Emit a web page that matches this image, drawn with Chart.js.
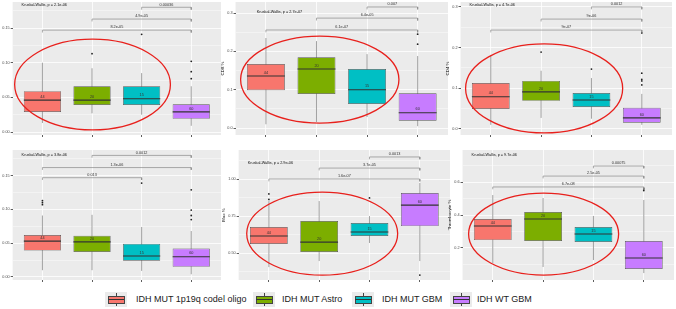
<!DOCTYPE html>
<html>
<head>
<meta charset="utf-8">
<script src="https://cdn.jsdelivr.net/npm/chart.js@4.4.1/dist/chart.umd.min.js"></script>
<style>
  body { margin: 0; width: 676px; height: 309px; position: relative; overflow: hidden; background: #fff;
         font-family: "Liberation Sans", Arial, sans-serif; }
  canvas { position: absolute; }
  .key { position: absolute; top: 292px; width: 22px; height: 15px; background: #ebebeb; }
  .key .wh { position: absolute; left: 10.5px; top: 1px; width: 0.8px; height: 13px; background: #444; }
  .key .bx { position: absolute; left: 3px; top: 4px; width: 15px; height: 6px; border: 0.7px solid #444; }
  .key .md { position: absolute; left: 3px; top: 7px; width: 16px; height: 1px; background: #333; }
  .lab { position: absolute; top: 293px; font-size: 9px; line-height: 12px; color: #1a1a1a; white-space: nowrap; }
</style>
</head>
<body>
<div id="legend"></div>
<script>
// groups
const groups = ['IDH MUT 1p19q codel oligo', 'IDH MUT Astro', 'IDH MUT GBM', 'IDH WT GBM']
const groupColors = ['#F8766D', '#7CAE00', '#00BFC4', '#C77CFF']
const groupCounts = [44, 20, 15, 60]
const panelTitles = ['Bcell %', 'CD8 %', 'CD4 %', 'NK %', 'Mac %', 'Thrombocyte %']
const kruskalP = ['2.1e-06', '2.7e-07', '4.7e-06', '3.8e-06', '2.9e-06', '9.7e-06']

// box stats per group: [lower whisker, Q1, median, Q3, upper whisker]
const bcellBox = [[0.013, 0.029, 0.046, 0.059, 0.100], [0.027, 0.039, 0.046, 0.066, 0.092], [0.025, 0.039, 0.048, 0.066, 0.085], [0.009, 0.019, 0.029, 0.040, 0.066]]
const bcellOut = [[], [0.113], [0.141], [0.102, 0.087, 0.077]]
const bcellTests = [[1, 4, '8.2e-05'], [2, 4, '4.9e-05'], [3, 4, '0.00036']]

const cd8Box = [[0.010, 0.099, 0.136, 0.167, 0.235], [0.016, 0.089, 0.154, 0.185, 0.227], [0.029, 0.063, 0.100, 0.154, 0.193], [0.005, 0.019, 0.040, 0.091, 0.188]]
const cd8Out = [[], [], [], [0.245, 0.219]]
const cd8Tests = [[1, 4, '6.1e-07'], [2, 4, '6.4e-05'], [3, 4, '0.007']]

const cd4Box = [[0.010, 0.049, 0.079, 0.113, 0.182], [0.027, 0.069, 0.091, 0.118, 0.143], [0.025, 0.054, 0.071, 0.088, 0.125], [0.010, 0.015, 0.027, 0.052, 0.086]]
const cd4Out = [[], [0.189], [0.147], [0.236, 0.137, 0.122, 0.118, 0.108]]
const cd4Tests = [[1, 4, '9e-07'], [2, 4, '9e-06'], [3, 4, '0.0012']]

const nkBox = [[0.010, 0.039, 0.053, 0.062, 0.091], [0.010, 0.037, 0.052, 0.061, 0.092], [0.009, 0.024, 0.031, 0.049, 0.074], [0.004, 0.015, 0.030, 0.042, 0.068]]
const nkOut = [[0.113, 0.110, 0.107], [], [0.139], [0.129, 0.099, 0.091, 0.085]]
const nkTests = [[1, 3, '0.013'], [1, 4, '1.3e-06'], [2, 4, '0.0012']]

const macBox = [[0.405, 0.561, 0.615, 0.676, 0.851], [0.446, 0.507, 0.574, 0.716, 0.851], [0.568, 0.615, 0.642, 0.703, 0.750], [0.446, 0.682, 0.824, 0.905, 0.973]]
const macOut = [[0.899, 0.862], [], [0.872], [0.351]]
const macTests = [[1, 4, '1.6e-07'], [2, 4, '3.7e-05'], [3, 4, '0.0013']]

const thrBox = [[0.109, 0.248, 0.333, 0.376, 0.521], [0.085, 0.242, 0.376, 0.418, 0.503], [0.127, 0.236, 0.285, 0.327, 0.394], [0.048, 0.073, 0.139, 0.242, 0.491]]
const thrOut = [[], [], [], [0.558, 0.548]]
const thrTests = [[1, 4, '6.7e-08'], [2, 4, '2.5e-05'], [3, 4, '0.00075']]

// layout of the six panels (plot rectangle in page px, axis range, bracket heights, label spots, red ring)
const panels = [
    { box: bcellBox, out: bcellOut, tests: bcellTests, n: 0, rect: [13, 2, 221, 135], y: [-0.0043, 0.1876], major: 0.05, dec: 2,
      bracketY: [0.147, 0.163, 0.180], kwPos: [0.58, 0.183], ring: [0.44, 3.58, 0.003, 0.134] },
    { box: cd8Box, out: cd8Out, tests: cd8Tests, n: 1, rect: [236, 2, 448, 135], y: [-0.018, 0.329], major: 0.1, dec: 1,
      bracketY: [0.256, 0.287, 0.316], kwPos: [0.82, 0.303], ring: [0.5, 3.63, 0.013, 0.240] },
    { box: cd4Box, out: cd4Out, tests: cd4Tests, n: 2, rect: [461, 2, 672, 135], y: [-0.015, 0.312], major: 0.1, dec: 1,
      bracketY: [0.243, 0.270, 0.300], kwPos: [0.58, 0.305], ring: [0.5, 3.62, -0.010, 0.209] },
    { box: nkBox, out: nkOut, tests: nkTests, n: 3, rect: [13, 150, 221, 280], y: [-0.0045, 0.188], major: 0.05, dec: 2,
      bracketY: [0.147, 0.162, 0.180], kwPos: [0.58, 0.181], ring: null },
    { box: macBox, out: macOut, tests: macTests, n: 4, rect: [239, 150, 450, 280], y: [0.318, 1.196], major: 0.25, dec: 2,
      bracketY: [1.00, 1.074, 1.149], kwPos: [0.58, 1.108], ring: [0.56, 3.56, 0.351, 0.912] },
    { box: thrBox, out: thrOut, tests: thrTests, n: 5, rect: [463, 150, 674, 280], y: [0.006, 0.794], major: 0.2, dec: 1,
      bracketY: [0.570, 0.636, 0.697], kwPos: [0.58, 0.764], ring: [0.52, 3.50, 0.036, 0.533] }
]

const FONT = '"Liberation Sans", Arial, sans-serif'

const isMajor = (v, step) => Math.abs(Math.round(v / step) * step - v) < 1e-9

function decor(p) {
    return {
        id: 'decor' + p.n,
        beforeDraw(chart) {
            const { ctx, chartArea: a } = chart
            ctx.save()
            ctx.fillStyle = '#ebebeb'
            ctx.fillRect(a.left, a.top, a.width, a.height)
            ctx.restore()
        },
        afterDatasetsDraw(chart) {
            const { ctx, scales: { x, y } } = chart
            ctx.save()
            ctx.font = '3.8px ' + FONT
            ctx.fillStyle = '#333'
            ctx.textAlign = 'center'
            ctx.textBaseline = 'bottom'
            p.box.forEach((s, i) => {
                ctx.fillText(String(groupCounts[i]), x.getPixelForValue(i + 1), y.getPixelForValue(s[2]) - 1.5)
            })
            p.tests.forEach((t, k) => {
                ctx.fillText(t[2], x.getPixelForValue((t[0] + t[1]) / 2), y.getPixelForValue(p.bracketY[k]) - 0.8)
            })
            ctx.fillStyle = '#111'
            ctx.textAlign = 'left'
            ctx.textBaseline = 'middle'
            ctx.fillText('Kruskal-Wallis, p = ' + kruskalP[p.n], x.getPixelForValue(p.kwPos[0]), y.getPixelForValue(p.kwPos[1]))
            ctx.restore()
        },
        afterDraw(chart) {
            if (!p.ring) return
            const { ctx, scales: { x, y } } = chart
            const r = p.ring
            const x0 = x.getPixelForValue(r[0]), x1 = x.getPixelForValue(r[1])
            const y0 = y.getPixelForValue(r[2]), y1 = y.getPixelForValue(r[3])
            ctx.save()
            ctx.strokeStyle = '#e8201c'
            ctx.lineWidth = 1.3
            ctx.beginPath()
            ctx.ellipse((x0 + x1) / 2, (y0 + y1) / 2, Math.abs(x1 - x0) / 2, Math.abs(y1 - y0) / 2, 0, 0, Math.PI * 2)
            ctx.stroke()
            ctx.restore()
        }
    }
}

function config(p) {
    const datasets = []
    const range = p.y[1] - p.y[0]
    // whiskers (behind the boxes)
    p.box.forEach((s, i) => {
        datasets.push({ type: 'line', data: [{ x: i + 1, y: s[0] }, { x: i + 1, y: s[4] }],
            borderColor: '#666', borderWidth: 0.6, pointRadius: 0, order: 6 })
    })
    // boxes
    datasets.push({ type: 'bar', data: p.box.map((s, i) => ({ x: i + 1, y: [s[1], s[3]] })),
        backgroundColor: groupColors, borderColor: '#555', borderWidth: 0.7, borderSkipped: false,
        barPercentage: 0.75, categoryPercentage: 1, order: 5 })
    // medians
    p.box.forEach((s, i) => {
        datasets.push({ type: 'line', data: [{ x: i + 0.625, y: s[2] }, { x: i + 1.375, y: s[2] }],
            borderColor: '#333', borderWidth: 1.1, pointRadius: 0, order: 4 })
    })
    // outliers
    datasets.push({ type: 'line', showLine: false,
        data: p.out.flatMap((o, i) => o.map(v => ({ x: i + 1, y: v }))),
        pointRadius: 0.9, pointBackgroundColor: '#222', pointBorderWidth: 0, order: 3 })
    // significance brackets
    p.tests.forEach((t, k) => {
        const h = p.bracketY[k], tip = range * 0.018
        datasets.push({ type: 'line',
            data: [{ x: t[0], y: h - tip }, { x: t[0], y: h }, { x: t[1], y: h }, { x: t[1], y: h - tip }],
            borderColor: '#8a8a8a', borderWidth: 0.7, pointRadius: 0, order: 2 })
    })

    return {
        type: 'bar',
        data: { datasets },
        options: {
            responsive: false,
            maintainAspectRatio: false,
            animation: false,
            layout: { padding: 0 },
            plugins: { legend: { display: false }, tooltip: { enabled: false } },
            scales: {
                x: {
                    type: 'linear', min: 0.4, max: 4.6, offset: false,
                    grid: { offset: false, color: '#fff', lineWidth: 0.8, drawTicks: true, tickLength: 2, tickColor: '#333' },
                    border: { display: false },
                    ticks: { display: false, stepSize: 1, includeBounds: false, autoSkip: false }
                },
                y: {
                    type: 'linear', min: p.y[0], max: p.y[1], beginAtZero: false,
                    grid: {
                        color: '#fff',
                        lineWidth: c => isMajor(c.tick.value, p.major) ? 0.8 : 0.4,
                        tickLength: 2,
                        tickColor: c => isMajor(c.tick.value, p.major) ? '#333' : 'rgba(0,0,0,0)'
                    },
                    border: { display: false },
                    ticks: {
                        stepSize: p.major / 2, includeBounds: false, autoSkip: false, padding: 1,
                        color: '#4d4d4d', font: { size: 3.8, family: FONT },
                        callback: v => isMajor(v, p.major) ? v.toFixed(p.dec) : ''
                    },
                    title: { display: true, text: panelTitles[p.n], color: '#000', font: { size: 4.4, family: FONT }, padding: { top: 0, bottom: 1 } }
                }
            }
        },
        plugins: [decor(p)]
    }
}

panels.forEach(p => {
    const canvas = document.createElement('canvas')
    document.body.appendChild(canvas)
    canvas.width = 300
    canvas.height = 200
    let chart = new Chart(canvas, config(p))
    const a = chart.chartArea
    const tw = p.rect[2] - p.rect[0], th = p.rect[3] - p.rect[1]
    const w = Math.round(a.left + tw + (300 - a.right))
    const h = Math.round(a.top + th + (200 - a.bottom))
    const left = Math.round(p.rect[0] - a.left), top = Math.round(p.rect[1] - a.top)
    chart.destroy()
    canvas.width = w
    canvas.height = h
    canvas.style.left = left + 'px'
    canvas.style.top = top + 'px'
    new Chart(canvas, config(p))
})

// legend
const keyLeft = [105, 253, 352, 450]
const labLeft = [136, 282, 382, 477]
const legend = document.getElementById('legend')
groups.forEach((g, i) => {
    const key = document.createElement('div')
    key.className = 'key'
    key.style.left = keyLeft[i] + 'px'
    key.innerHTML = '<div class="wh"></div><div class="bx" style="background:' + groupColors[i] + '"></div><div class="md"></div>'
    legend.appendChild(key)
    const lab = document.createElement('div')
    lab.className = 'lab'
    lab.style.left = labLeft[i] + 'px'
    lab.textContent = g
    legend.appendChild(lab)
})
</script>
</body>
</html>
